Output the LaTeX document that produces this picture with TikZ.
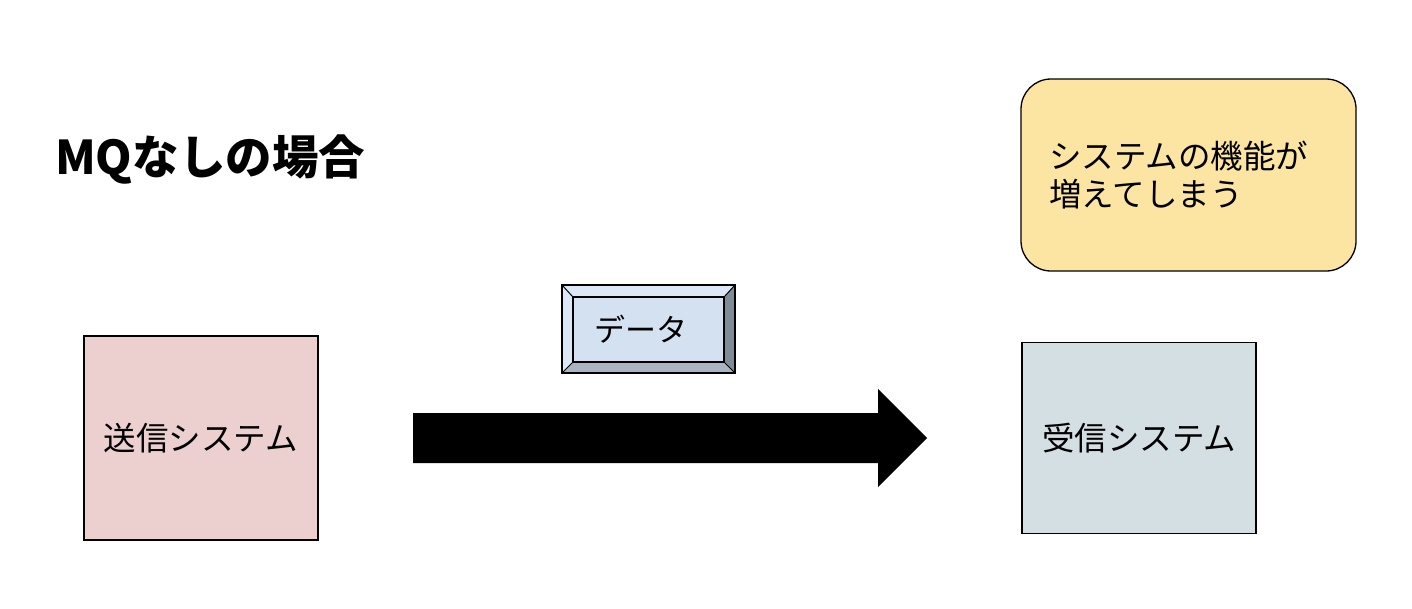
\documentclass[tikz,border=0pt]{standalone}
\usepackage{fontspec}
\setmainfont{Noto Sans CJK JP}
\definecolor{sendfill}{HTML}{ECCFCF}
\definecolor{recvfill}{HTML}{D4DFE4}
\definecolor{notefill}{HTML}{FCE4A2}
\definecolor{btnface}{HTML}{D4E1F1}
\definecolor{btntop}{HTML}{DCE8F5}
\definecolor{btnright}{HTML}{7F8B95}
\definecolor{btnbottom}{HTML}{A9B6C2}
\tikzset{
  sysbox/.style={draw=black, line width=1.3pt, minimum width=234pt, inner sep=0pt, font=\fontsize{32.5}{38}\selectfont},
  notebox/.style={draw=black, line width=1.3pt, fill=notefill, rounded corners=30pt, minimum width=335pt, minimum height=192pt, inner sep=0pt},
}
\begin{document}
\begin{tikzpicture}[x=1pt, y=-1pt]
\useasboundingbox (0,0) rectangle (1412,608);
% title
\node[anchor=west, inner sep=0pt, font=\fontsize{46.5}{52}\bfseries\selectfont] (title) at (55,160) {MQなしの場合};
% sender
\node[sysbox, fill=sendfill, minimum height=204pt] (send) at (201,438) {送信システム};
% receiver
\node[sysbox, fill=recvfill, minimum height=191pt] (recv) at (1139,438) {受信システム};
% note
\node[notebox] (note) at (1188.5,175) {};
\node[anchor=west, inner sep=0pt, align=left, font=\fontsize{32.5}{38}\selectfont] (notetext) at (1049,175) {システムの機能が\\増えてしまう};
% data button
\fill[btntop] (562,285) -- (735,285) -- (724,297) -- (573,297) -- cycle;
\fill[btntop] (562,285) -- (573,297) -- (573,362) -- (562,373) -- cycle;
\fill[btnright] (735,285) -- (735,373) -- (724,362) -- (724,297) -- cycle;
\fill[btnbottom] (562,373) -- (573,362) -- (724,362) -- (735,373) -- cycle;
\node[draw=black, line width=1.3pt, fill=btnface, minimum width=151pt, minimum height=65pt, inner sep=0pt, font=\fontsize{31}{35}\selectfont] (data) at (648.5,329.5) {データ\kern16pt};
\draw[line width=1.3pt] (562,285) rectangle (735,373);
\draw[line width=1pt] (562,285) -- (data.north west) (735,285) -- (data.north east) (562,373) -- (data.south west) (735,373) -- (data.south east);
% big arrow
\coordinate (astart) at (413,438);
\coordinate (atip) at (927,438);
\fill[black] (413,413) -- (878,413) -- (878,389) -- (atip) -- (878,487) -- (878,463) -- (413,463) -- cycle;
\end{tikzpicture}
\end{document}
